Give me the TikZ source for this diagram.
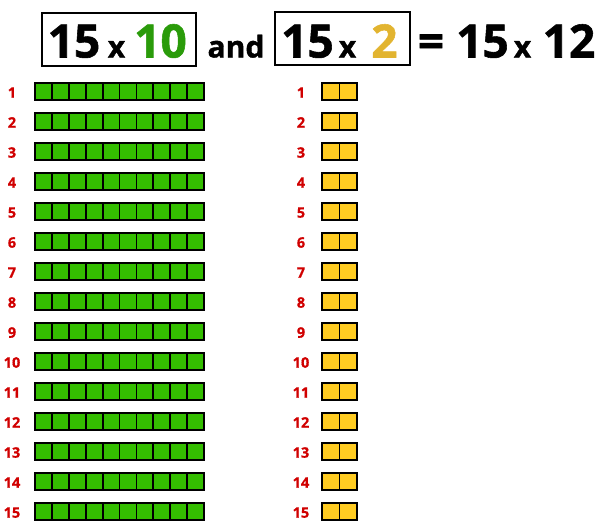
\documentclass[tikz,border=0pt]{standalone}
\usepackage{fontspec}
\setmainfont{Open Sans}
\newfontfamily\osb[FakeBold=1.2]{Open Sans Bold}
\newfontfamily\osl[FakeBold=0.8]{Open Sans Bold}
\definecolor{cellgreen}{RGB}{52,190,0}
\definecolor{cellyellow}{RGB}{255,204,34}
\definecolor{numred}{RGB}{208,0,0}
\definecolor{titlegreen}{RGB}{42,155,10}
\definecolor{titleyellow}{RGB}{226,180,48}
\tikzset{
  big/.style={inner sep=0pt, anchor=base, font=\osb\fontsize{46}{46}\selectfont},
  small/.style={inner sep=0pt, anchor=base, font=\osb\fontsize{30}{30}\selectfont},
  rowlabel/.style={inner sep=0pt, anchor=base, text=numred, font=\osl\fontsize{14.5}{14.5}\selectfont},
  gcell/.style={fill=cellgreen, draw=black, line width=1.8pt},
  ycell/.style={fill=cellyellow, draw=black, line width=1.8pt},
  outer/.style={draw=black, line width=2.4pt},
  titlebox/.style={draw=black, line width=1.8pt}
}
\begin{document}
\begin{tikzpicture}[x=1pt,y=-1pt]
\useasboundingbox (0,0) rectangle (598,528);
% title
\draw[titlebox] (42,13) rectangle (196,66);
\draw[titlebox] (275,12) rectangle (410,65);
\node[big] (t15a) at (74,57.5) {15};
\node[small] (tx1) at (116.5,57.5) {x};
\node[big, text=titlegreen] (t10) at (160.5,57.5) {10};
\node[small] (tand) at (236,57.5) {and};
\node[big] (t15b) at (307.5,57.5) {15};
\node[small] (tx2) at (347.5,57.5) {x};
\node[big, text=titleyellow] (t2) at (384.5,57.5) {2};
\node[big] (teq) at (431,57.5) {=};
\node[big] (t15c) at (482.5,57.5) {15};
\node[small] (tx3) at (522.5,57.5) {x};
\node[big] (t12) at (569,57.5) {12};
% rows
\foreach \r in {1,...,15}{
  \pgfmathsetmacro{\yt}{83+(\r-1)*30}
  \pgfmathsetmacro{\yb}{\yt+17}
  \pgfmathsetmacro{\yl}{\yt+14.7}
  \node[rowlabel] (gl\r) at (12,\yl) {\r};
  \node[rowlabel] (yl\r) at (301,\yl) {\r};
  \foreach \c in {0,...,9}{
    \draw[gcell] ({35+\c*16.9},\yt) rectangle ({35+(\c+1)*16.9},\yb);
  }
  \draw[outer] (35,\yt) rectangle (204,\yb);
  \foreach \c in {0,1}{
    \draw[ycell] ({322+\c*17.5},\yt) rectangle ({322+(\c+1)*17.5},\yb);
  }
  \draw[outer] (322,\yt) rectangle (357,\yb);
}
\end{tikzpicture}
\end{document}
